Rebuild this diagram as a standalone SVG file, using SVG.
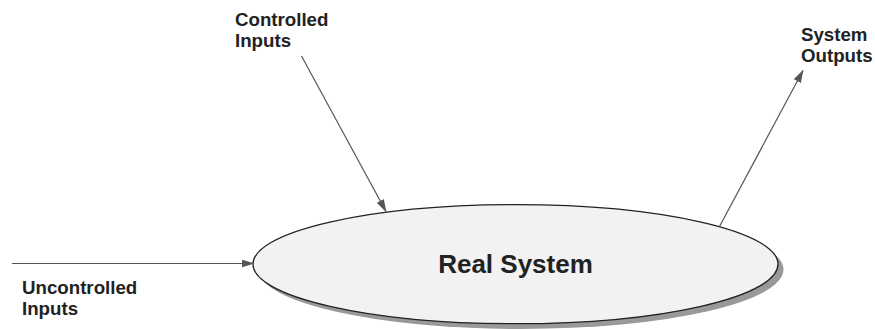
<svg xmlns="http://www.w3.org/2000/svg" width="875" height="329" viewBox="0 0 875 329">
<defs>
<style>
.lbl{font-family:"Liberation Sans",Arial,sans-serif;font-weight:bold;font-size:18.7px;fill:#222}
.title{font-family:"Liberation Sans",Arial,sans-serif;font-weight:bold;font-size:26px;fill:#222}
.conn{stroke:#555;stroke-width:1.2;fill:none;marker-end:url(#ah)}
</style>
<marker id="ah" markerWidth="13" markerHeight="8" refX="12" refY="4" orient="auto" markerUnits="userSpaceOnUse">
<path d="M0,0 L13,4 L0,8 Z" fill="#555"/>
</marker>
</defs>
<rect width="875" height="329" fill="#fff"/>
<g id="real-system">
<ellipse cx="521" cy="269.5" rx="262.5" ry="59.5" fill="#999"/>
<ellipse cx="515.5" cy="264.2" rx="262.5" ry="59.5" fill="#f2f2f2" stroke="#222" stroke-width="1.3"/>
<text class="title" x="515.5" y="272.5" text-anchor="middle">Real System</text>
</g>
<g id="controlled-inputs">
<text class="lbl" x="235" y="26">Controlled</text>
<text class="lbl" x="235" y="47">Inputs</text>
</g>
<g id="uncontrolled-inputs">
<text class="lbl" x="22" y="294">Uncontrolled</text>
<text class="lbl" x="22" y="315">Inputs</text>
</g>
<g id="system-outputs">
<text class="lbl" x="801" y="41">System</text>
<text class="lbl" x="801" y="62">Outputs</text>
</g>
<g id="connectors">
<line class="conn" x1="12" y1="263.5" x2="253.5" y2="263.5"/>
<line class="conn" x1="301.5" y1="56" x2="386" y2="211.5"/>
<line class="conn" x1="719.5" y1="226.5" x2="803" y2="70.5"/>
</g>
</svg>
